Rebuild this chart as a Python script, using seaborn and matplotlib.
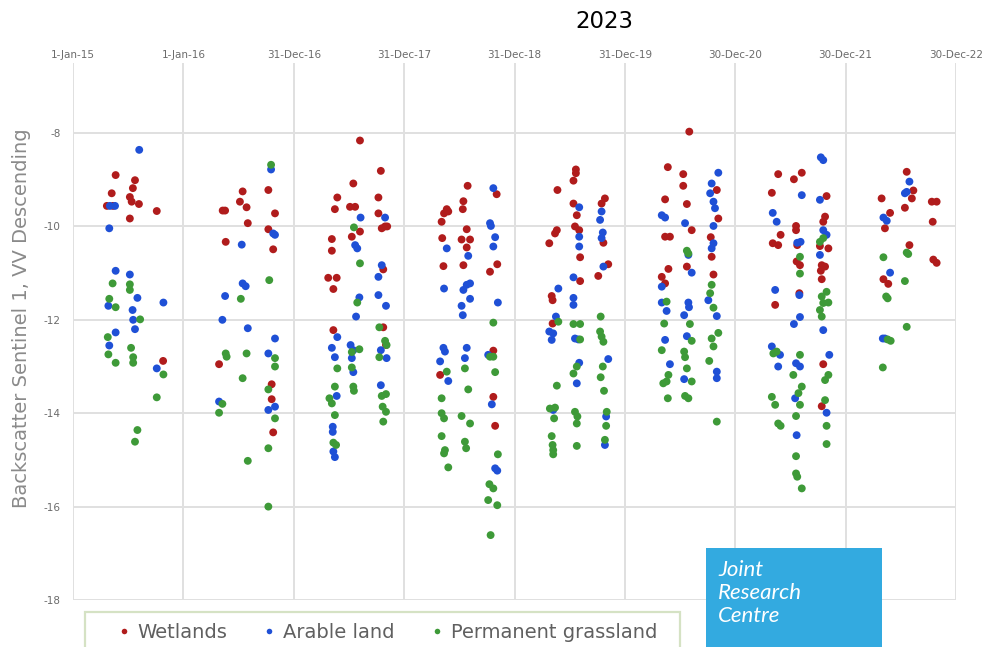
import pandas as pd
import matplotlib
matplotlib.use("Agg")
import matplotlib.pyplot as plt
from matplotlib.lines import Line2D
from matplotlib.patches import Rectangle
import seaborn as sns

# Sentinel-1 VV descending backscatter (dB), parcel means per acquisition.
# Dates are Excel serial day numbers.
classes = ["Wetlands", "Arable land", "Permanent grassland"]
class_colors = ["#B01C1C", "#1F50D6", "#3E9A38"]

wet_serial = [
    42146, 42133, 42117, 42137, 42210, 42203, 42193, 42199, 42223, 42193, 42282, 42303,
    42566, 42557, 42579, 42500, 42508, 42583, 42651, 42673, 42651, 42510, 42667, 42488, 42662, 42662, 42667,
    42954, 43023, 42932, 42879, 43015, 42871, 42921, 42938, 43015, 43026, 43037, 43044, 42861, 42954, 42927,
    42861, 43031, 42849, 42877, 42866, 42866, 43040, 43031,
    43310, 43296, 43294, 43241, 43246, 43232, 43224, 43406, 43307, 43226, 43290, 43318, 43307, 43408, 43384,
    43230, 43296, 43219, 43395, 43401, 43395,
    43668, 43668, 43660, 43607, 43660, 43671, 43764, 43753, 43665, 43679, 43605, 43599, 43580, 43759, 43682,
    43775, 43742, 43682, 43588, 43591, 43591,
    44043, 43972, 44023, 44023, 44134, 44139, 43963, 44035, 44051, 43963, 43979, 44114, 44117, 44035, 43974,
    44123, 43952, 43963,
    44337, 44389, 44415, 44316, 44497, 44492, 44486, 44396, 44396, 44345, 44319, 44337, 44400, 44503, 44475,
    44398, 44409, 44481, 44492, 44478, 44481, 44407, 44327, 44486, 44481,
    44762, 44784, 44779, 44679, 44845, 44861, 44756, 44707, 44848, 44690, 44771, 44850, 44861, 44685, 44701,
]
wet_db = [
    -8.90, -9.29, -9.56, -9.56, -9.01, -9.18, -9.37, -9.47, -9.52, -9.83, -9.67, -12.88,
    -9.25, -9.47, -9.59, -9.66, -9.66, -9.93, -9.22, -9.72, -10.06, -10.33, -10.49, -12.95, -13.38, -13.70, -14.41,
    -8.16, -8.81, -9.08, -9.38, -9.38, -9.63, -9.58, -9.58, -9.72, -10.04, -10.00, -10.00, -10.27, -10.11, -10.22,
    -10.52, -10.92, -11.10, -11.10, -11.34, -12.22, -12.54, -12.16,
    -9.13, -9.46, -9.63, -9.63, -9.68, -9.72, -9.90, -9.31, -10.06, -10.25, -10.28, -10.28, -10.45, -10.81, -10.97,
    -10.85, -10.83, -13.18, -13.65, -14.27, -12.66,
    -8.78, -8.86, -9.02, -9.22, -9.51, -9.76, -9.40, -9.51, -10.00, -10.08, -10.08, -10.15, -10.36, -10.35, -10.66,
    -10.81, -11.06, -11.17, -11.49, -11.58, -12.08,
    -7.97, -8.73, -8.88, -9.13, -9.22, -9.83, -9.42, -9.52, -10.08, -10.22, -10.22, -10.23, -10.65, -10.86, -10.91,
    -11.03, -11.08, -11.22,
    -8.88, -8.99, -8.85, -9.28, -9.35, -9.79, -9.90, -9.99, -10.08, -10.18, -10.36, -10.40, -10.40, -10.47, -10.42,
    -10.75, -10.83, -10.83, -10.86, -10.95, -11.13, -11.43, -11.68, -12.95, -13.85,
    -8.83, -9.23, -9.40, -9.40, -9.47, -9.47, -9.60, -9.71, -9.90, -10.04, -10.40, -10.71, -10.78, -11.13, -11.23,
]

ara_serial = [
    42224, 42127, 42144, 42125, 42146, 42193, 42218, 42122, 42202, 42204, 42210, 42146, 42125, 42304, 42282,
    42563, 42667, 42673, 42566, 42576, 42508, 42499, 42583, 42673, 42651, 42488, 42651, 42673, 42660,
    42956, 43037, 42938, 42945, 43026, 43015, 42952, 43015, 43040, 42941, 42879, 42861, 42871, 42923, 42932,
    42927, 42932, 43023, 43042, 43023, 42877, 42864, 42864, 42866, 42871,
    43395, 43384, 43387, 43401, 43395, 43241, 43312, 43318, 43307, 43296, 43232, 43318, 43290, 43294, 43410,
    43230, 43235, 43307, 43301, 43219, 43246, 43378, 43390, 43401, 43408,
    43679, 43753, 43748, 43679, 43679, 43757, 43753, 43759, 43660, 43610, 43660, 43660, 43602, 43580, 43593,
    43588, 43665, 43676, 43775, 43679, 43671, 43593, 43768, 43764,
    44139, 44117, 44112, 44123, 44128, 44123, 43952, 43963, 44029, 44123, 44117, 44040, 44051, 43952, 44106,
    43952, 43968, 44040, 44042, 44026, 44134, 44035, 43963, 43979, 44134, 44134, 44026,
    44478, 44486, 44415, 44475, 44319, 44332, 44486, 44497, 44400, 44411, 44475, 44327, 44407, 44409, 44389,
    44486, 44316, 44343, 44337, 44396, 44409, 44506, 44393, 44497, 44398,
    44771, 44756, 44762, 44685, 44696, 44707, 44683, 44690,
]
ara_db = [
    -8.36, -9.56, -9.56, -10.04, -10.95, -11.03, -11.53, -11.70, -11.79, -12.00, -12.20, -12.27, -12.55, -11.63, -13.04,
    -10.39, -10.15, -10.18, -11.22, -11.28, -11.49, -12.00, -12.18, -12.40, -12.72, -13.75, -13.93, -13.86, -8.78,
    -9.81, -9.81, -10.40, -10.47, -10.83, -11.08, -11.52, -11.47, -11.70, -11.93, -12.37, -12.60, -12.80, -12.54, -12.65,
    -12.82, -13.12, -12.65, -12.82, -13.40, -13.63, -14.29, -14.40, -14.82, -14.94,
    -9.18, -9.93, -9.99, -10.23, -10.43, -10.47, -10.63, -11.22, -11.25, -11.36, -11.33, -11.55, -11.70, -11.90, -11.63,
    -12.60, -12.68, -12.60, -12.82, -12.89, -13.31, -12.75, -13.81, -15.18, -15.23,
    -9.59, -9.68, -9.86, -10.22, -10.43, -10.13, -10.25, -10.86, -11.09, -11.33, -11.53, -11.68, -11.93, -12.25, -12.29,
    -12.43, -12.40, -12.42, -12.84, -12.92, -13.36, -13.93, -14.07, -14.68,
    -8.85, -9.08, -9.29, -9.47, -9.61, -9.99, -9.76, -9.81, -9.93, -10.36, -10.47, -10.61, -10.99, -11.29, -11.58,
    -11.63, -11.81, -11.63, -11.73, -11.90, -11.92, -12.35, -12.43, -12.95, -13.11, -13.25, -13.27,
    -8.52, -8.58, -9.33, -9.43, -9.71, -9.90, -10.08, -10.18, -10.35, -10.33, -10.61, -11.36, -11.47, -11.94, -12.09,
    -12.22, -12.57, -12.75, -13.00, -12.93, -13.00, -12.75, -13.68, -13.99, -14.47,
    -9.04, -9.29, -9.26, -9.81, -9.88, -10.99, -12.40, -12.40,
]

gra_serial = [
    42136, 42193, 42193, 42125, 42146, 42227, 42120, 42122, 42146, 42197, 42204, 42204, 42304, 42282, 42218, 42210,
    42660, 42654, 42560, 42510, 42513, 42579, 42673, 42673, 42566, 42651, 42499, 42488, 42673, 42651, 42583, 42651,
    42934, 42954, 42945, 43018, 43037, 43042, 42952, 42927, 43018, 42879, 42927, 42871, 42932, 42934, 42853,
    42861, 43026, 43040, 43029, 43040, 42871, 43031, 42866, 42875,
    43395, 43384, 43395, 43401, 43301, 43241, 43312, 43224, 43224, 43232, 43290, 43318, 43224, 43301, 43305,
    43235, 43232, 43246, 43410, 43382, 43395, 43378, 43408, 43386,
    43610, 43660, 43682, 43750, 43748, 43753, 43759, 43682, 43757, 43671, 43660, 43750, 43605, 43761, 43582,
    43599, 43596, 43665, 43673, 43671, 43770, 43768, 43588, 43591, 43593, 43593, 43671, 43764,
    44035, 44040, 44117, 44112, 44123, 43968, 43960, 44045, 44139, 44051, 44117, 44123, 43952, 44026, 44029,
    44035, 44109, 43974, 43968, 43957, 44051, 43972, 44029, 44040, 44134,
    44409, 44409, 44486, 44475, 44497, 44481, 44486, 44503, 44475, 44481, 44321, 44332, 44409, 44387, 44503,
    44492, 44415, 44404, 44316, 44327, 44409, 44492, 44396, 44337, 44345, 44497, 44497, 44396, 44396, 44400, 44415,
    44762, 44767, 44685, 44756, 44694, 44699, 44762, 44699, 44709, 44683,
]
gra_db = [
    -11.22, -11.24, -11.36, -11.55, -11.73, -11.99, -12.37, -12.74, -12.92, -12.60, -12.80, -12.92, -13.17, -13.66,
    -14.36, -14.61,
    -8.68, -11.15, -11.55, -12.72, -12.79, -12.72, -12.82, -13.00, -13.25, -13.49, -13.80, -13.99, -14.11, -14.75,
    -15.02, -16.00,
    -10.02, -10.79, -11.63, -12.16, -12.45, -12.54, -12.63, -12.69, -12.80, -13.04, -13.02, -13.43, -13.43, -13.52,
    -13.68, -13.79, -13.63, -13.59, -13.86, -13.97, -14.04, -14.18, -14.63, -14.68,
    -12.06, -12.79, -12.79, -13.12, -13.04, -13.11, -13.49, -13.68, -14.00, -14.11, -14.06, -14.22, -14.49, -14.61,
    -14.75, -14.79, -14.86, -15.16, -14.88, -15.52, -15.61, -15.86, -15.97, -16.61,
    -12.04, -12.09, -12.09, -11.93, -12.25, -12.36, -12.47, -12.42, -13.00, -13.00, -13.15, -13.23, -13.41, -13.52,
    -13.90, -13.88, -14.11, -13.97, -14.07, -14.22, -13.97, -14.27, -14.49, -14.68, -14.79, -14.88, -14.70, -14.57,
    -10.52, -10.58, -11.25, -11.43, -11.74, -11.61, -12.08, -12.09, -12.28, -12.45, -12.40, -12.57, -12.65, -12.68,
    -12.80, -13.04, -12.88, -13.18, -13.32, -13.36, -13.32, -13.68, -13.63, -13.68, -14.18,
    -10.65, -11.01, -10.25, -10.33, -11.40, -11.50, -11.64, -11.63, -11.79, -11.93, -12.72, -12.68, -12.75, -13.18,
    -13.18, -13.29, -13.43, -13.57, -13.65, -13.82, -13.82, -13.72, -14.06, -14.22, -14.27, -14.27, -14.66, -14.92,
    -15.29, -15.36, -15.61,
    -10.56, -10.59, -10.66, -11.17, -11.50, -11.54, -12.15, -12.42, -12.45, -13.02,
]

# Axis range and date ticks (every 365 days from 1-Jan-15)
x_start_serial = 42005
x_end_serial = 44925
tick_step_days = 365
y_ticks = [-18, -16, -14, -12, -10, -8]
y_min, y_max = -18, -6.5

excel_origin = "1899-12-30"


def to_date(serials):
    return pd.to_datetime(serials, unit="D", origin=excel_origin)


frames = []
for name, serials, values in zip(classes, [wet_serial, ara_serial, gra_serial], [wet_db, ara_db, gra_db]):
    frames.append(pd.DataFrame({"date": to_date(serials), "db": values, "class": name}))
df = pd.concat(frames, ignore_index=True)

sns.set_theme(style="white")
plt.rcParams["font.family"] = ["DejaVu Sans"]

W, H = 983, 647
fig = plt.figure(figsize=(W / 100, H / 100), dpi=100)
ax = fig.add_axes([73 / W, 1 - 600 / H, (956 - 73) / W, (600 - 63) / H])

sns.scatterplot(data=df, x="date", y="db", hue="class", hue_order=classes,
                palette=class_colors, s=32, linewidth=0, ax=ax, legend=False, zorder=3)

tick_dates = to_date(list(range(x_start_serial, x_end_serial + 1, tick_step_days)))
ax.set_xlim(to_date([x_start_serial])[0], to_date([x_end_serial])[0])
ax.set_xticks(tick_dates)
ax.set_xticklabels([f"{d.day}-{d.strftime('%b-%y')}" for d in tick_dates])
ax.xaxis.tick_top()
ax.set_ylim(y_min, y_max)
ax.set_yticks(y_ticks)
ax.set_yticklabels([str(v) for v in y_ticks])
ax.set_xlabel("")
ax.set_ylabel("")

ax.grid(True, color="#E0E0E0", linewidth=1.4, zorder=0)
for sp in ax.spines.values():
    sp.set_visible(False)
ax.tick_params(axis="x", length=0, pad=2, labelsize=7.5, labelcolor="#6b6b6b")
ax.tick_params(axis="y", length=0, pad=9, labelsize=7.5, labelcolor="#6b6b6b")

fig.text(22 / W, 1 - 318 / H, "Backscatter Sentinel 1, VV Descending", rotation=90,
         ha="center", va="center", fontsize=14, color="#8a8a8a")
fig.text(604 / W, 1 - 22 / H, "2023", ha="center", va="center", fontsize=16.5, color="black")

# Legend: frame drawn separately, entries placed in a frameless legend
fig.add_artist(Rectangle((85 / W, 1 - 662 / H), (680 - 85) / W, (662 - 612) / H,
                         transform=fig.transFigure, facecolor="white", edgecolor="#D5E2C4",
                         linewidth=1.6, zorder=4))
handles = [Line2D([], [], marker="o", linestyle="none", markersize=4, markerfacecolor=c,
                  markeredgewidth=0) for c in class_colors]
leg = fig.legend(handles, classes, loc="center left", bbox_to_anchor=(116 / W, 1 - 632 / H),
                 ncol=3, frameon=False, fontsize=14, handletextpad=0.32, handlelength=0.8,
                 columnspacing=1.75, borderpad=0, borderaxespad=0, labelcolor="#606060")
leg.set_zorder(5)

fig.add_artist(Rectangle((706 / W, 0), (882 - 706) / W, (647 - 548) / H,
                         transform=fig.transFigure, facecolor="#33AAE0", edgecolor="none", zorder=5))
for i, word in enumerate(["Joint", "Research", "Centre"]):
    fig.text(718 / W, 1 - (570 + 23 * i) / H, word, ha="left", va="center", fontsize=16,
             style="italic", color="white", family=["Lato", "DejaVu Sans"], zorder=6)

fig.savefig("out.png", dpi=100)
